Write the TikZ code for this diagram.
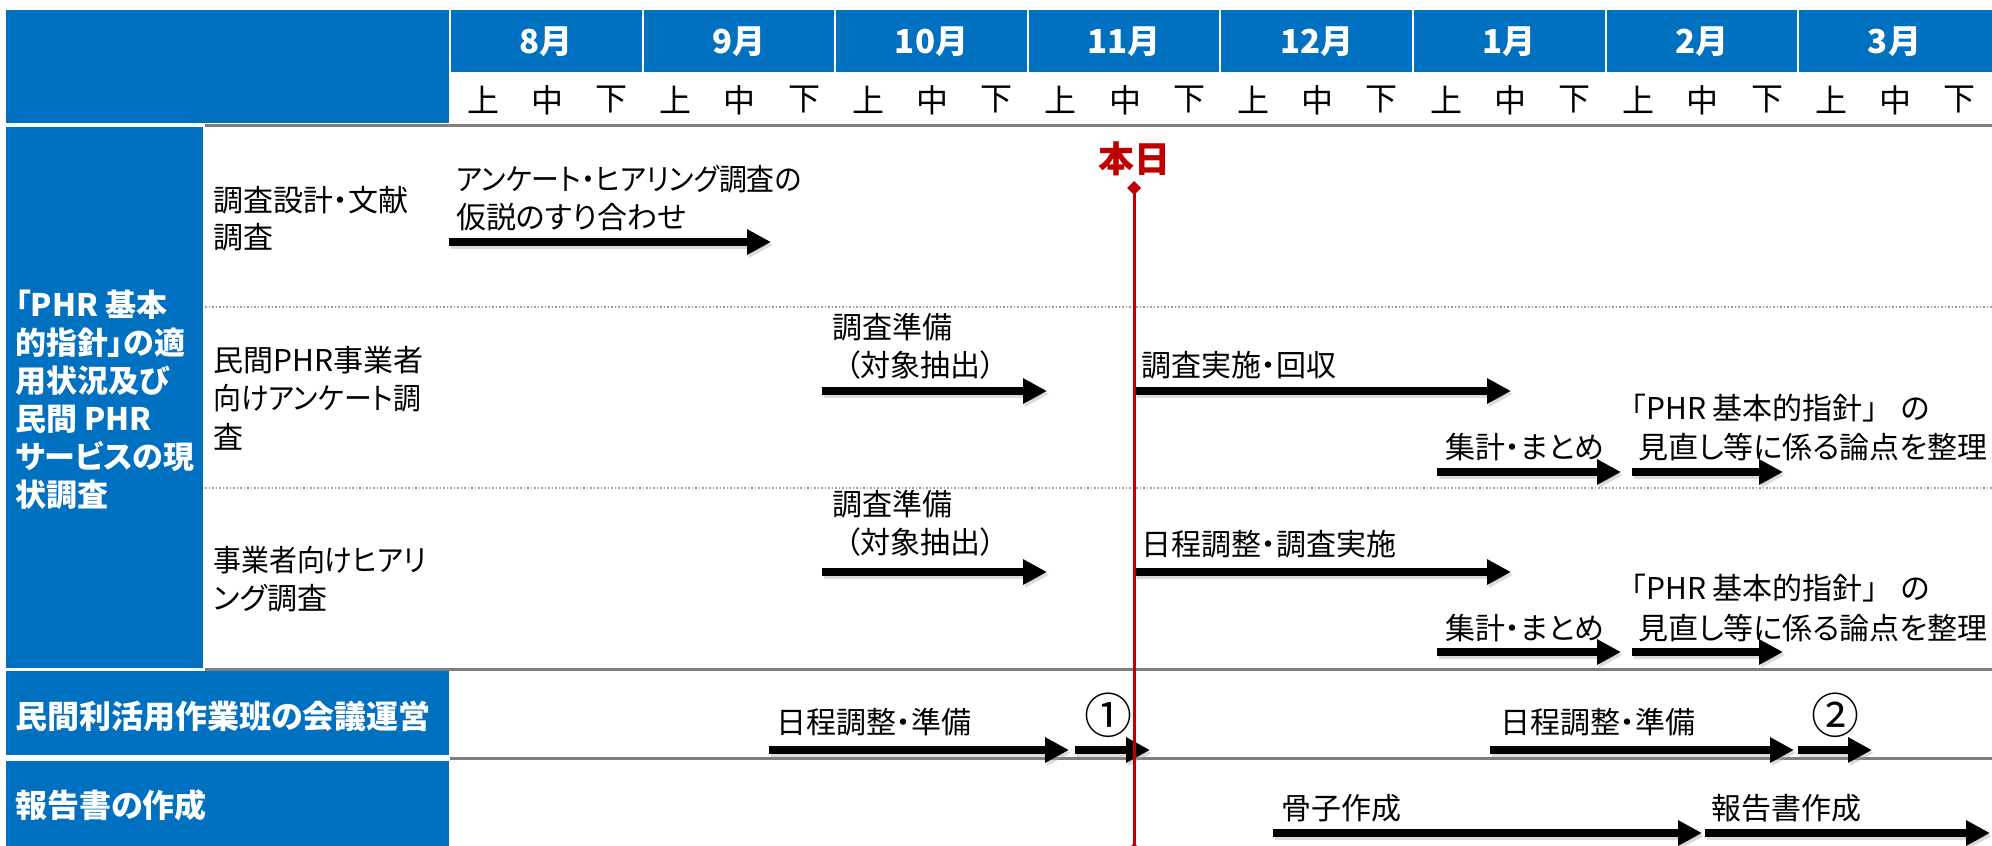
\documentclass[tikz,border=0pt]{standalone}
\usepackage{fontspec}
\setmainfont{Noto Sans CJK JP}[RawFeature=+palt]
\newfontfamily\jpnarrow{Noto Sans CJK JP}[RawFeature=+palt, FakeStretch=0.93]
\usetikzlibrary{arrows.meta}
\definecolor{pblue}{HTML}{0070C0}
\definecolor{pred}{HTML}{C00000}
\definecolor{lgray}{HTML}{7F7F7F}
\definecolor{dgray}{HTML}{A0A0A0}
\begin{document}
\begin{tikzpicture}[x=0.5pt,y=-0.5pt,
  txt/.style={font=\fontsize{15}{18}\selectfont, anchor=west, inner sep=0pt},
  txtn/.style={font=\jpnarrow\fontsize{15}{18}\selectfont, anchor=west, inner sep=0pt},
  cat/.style={font=\bfseries\fontsize{15.5}{18}\selectfont, text=white, anchor=west, inner sep=0pt},
  catb/.style={font=\bfseries\fontsize{16}{18}\selectfont, text=white, anchor=west, inner sep=0pt},
  mon/.style={font=\bfseries\fontsize{16.5}{18}\selectfont, text=white, inner sep=0pt},
  dek/.style={font=\fontsize{16}{18}\selectfont, inner sep=0pt},
  circ/.style={font=\fontsize{24}{26}\selectfont, inner sep=0pt},
  gline/.style={draw=lgray, line width=1.5pt},
  dline/.style={draw=dgray, line width=0.75pt, dash pattern=on 0.75pt off 1pt},
  bar/.style={draw=black, line width=4.2pt, -{Triangle[length=12pt,width=12pt]}},
  barsh/.style={draw=black!35, opacity=0.4, line width=4.2pt, -{Triangle[length=12pt,width=12pt]}},
  today/.style={draw=pred, line width=1.5pt}]
\useasboundingbox (0,0) rectangle (1992,846);
\fill[white] (0,0) rectangle (1992,846);
\begin{scope}
\clip (0,0) rectangle (1992,846);
% header
\fill[pblue] (6,10) rectangle (449,123);
\foreach \i/\m in {0/8,1/9,2/10,3/11,4/12,5/1,6/2,7/3} {
  \pgfmathsetmacro\xa{451+192.6*\i}
  \pgfmathsetmacro\xb{451+192.6*(\i+1)-2}
  \fill[pblue] (\xa,10) rectangle (\xb,72);
  \node[mon] (m\i) at ({(\xa+\xb)/2},42) {\m 月};
  \foreach \k/\d in {0/上,1/中,2/下} {
    \node[dek] (d\i\k) at ({\xa+64.2*(\k+0.5)},100) {\d};
  }
}
\fill[pblue] (1988,10) rectangle (1992,72);
% category blocks
\fill[pblue] (6,127) rectangle (203,668);
\fill[pblue] (6,671) rectangle (449,755);
\fill[pblue] (6,761) rectangle (449,846);
% lines
\draw[gline] (205,125) -- (1992,125);
\draw[gline] (205,669) -- (1992,669);
\draw[gline] (450,758) -- (1992,758);
\draw[dline] (205,307) -- (1992,307);
\draw[dline] (205,488) -- (1992,488);
% category texts
\node[cat] (c1a) at (15,305) {「PHR 基本};
\node[cat] (c1b) at (15,343) {的指針」の適};
\node[cat] (c1c) at (15,381) {用状況及び};
\node[cat] (c1d) at (15,419) {民間 PHR};
\node[cat] (c1e) at (15,457) {サービスの現};
\node[cat] (c1f) at (15,495) {状調査};
\node[catb] (c2) at (15,716) {民間利活用作業班の会議運営};
\node[catb] (c3) at (15,805) {報告書の作成};
% task texts
\node[txt] (r1a) at (213,200) {調査設計・文献};
\node[txt] (r1b) at (213,237) {調査};
\node[txt] (r2a) at (213,360) {民間PHR事業者};
\node[txtn] (r2b) at (213,398) {向けアンケート調};
\node[txt] (r2c) at (213,437) {査};
\node[txtn] (r3a) at (213,560) {事業者向けヒアリ};
\node[txt] (r3b) at (213,598) {ング調査};
% row 1
\node[txtn] (a1) at (456,179) {アンケート・ヒアリング調査の};
\node[txt] (a2) at (456,217) {仮説のすり合わせ};
% row 2
\node[txt] (b1) at (832,327) {調査準備};
\node[txt] (b2) at (845,365) {（対象抽出）};
\node[txt] (b3) at (1141,365) {調査実施・回収};
\node[txt] (b4) at (1445,447) {集計・まとめ};
\node[txt] (b5) at (1631,408) {「PHR 基本的指針」\hspace{0.75em}の};
\node[txt] (b6) at (1638,447) {見直し等に係る論点を整理};
% row 3
\node[txt] (e1) at (832,504) {調査準備};
\node[txt] (e2) at (845,542) {（対象抽出）};
\node[txt] (e3) at (1141,544) {日程調整・調査実施};
\node[txt] (e4) at (1445,628) {集計・まとめ};
\node[txt] (e5) at (1631,588) {「PHR 基本的指針」\hspace{0.75em}の};
\node[txt] (e6) at (1638,628) {見直し等に係る論点を整理};
% row 4
\node[txt] (f1) at (776,722) {日程調整・準備};
\node[circ] (f2) at (1108,715) {①};
\node[txt] (f3) at (1500,722) {日程調整・準備};
\node[circ] (f4) at (1835,715) {②};
% row 5
\node[txt] (g1) at (1281,808) {骨子作成};
\node[txt] (g2) at (1711,808) {報告書作成};
% bars
\foreach \a/\b/\c in {449/771/242, 822/1047/391, 1135/1511/391, 1437/1621/472, 1632/1783/472,
  822/1047/572, 1135/1511/572, 1437/1621/652, 1632/1783/652,
  769/1069/750, 1075/1150/750, 1490/1794/750, 1798/1872/750,
  1273/1702/833, 1705/1990/833} {
  \draw[barsh] (\a+2,\c+3) -- (\b+2,\c+3);
  \draw[bar] (\a,\c) -- (\b,\c);
}
% today line
\node[font=\bfseries\fontsize{18}{20}\selectfont, text=pred, inner sep=0pt] (hon) at (1134,159) {本日};
\coordinate (t0) at (1134,188);
\coordinate (t1) at (1134,850);
\draw[today] (t0) -- (t1);
\fill[pred] (1134,181) -- (1141,188) -- (1134,195) -- (1127,188) -- cycle;
\fill[pred] (1134,843) -- (1141,850) -- (1134,857) -- (1127,850) -- cycle;
\end{scope}
\end{tikzpicture}
\end{document}
